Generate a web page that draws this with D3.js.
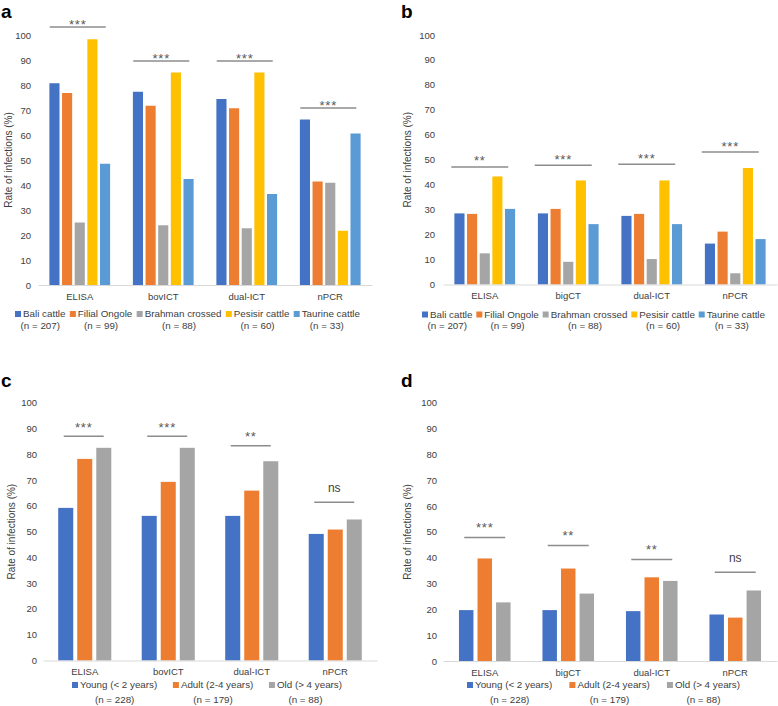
<!DOCTYPE html>
<html>
<head>
<meta charset="utf-8">
<script src="https://cdnjs.cloudflare.com/ajax/libs/d3/7.8.5/d3.min.js"></script>
<style>
  body { margin: 0; background: #fff; }
  svg { display: block; font-family: "Liberation Sans", Arial, sans-serif; }
</style>
</head>
<body>
<svg id="chart"></svg>
<script>
var width = 778;
var height = 706;

// categories
var testsA = ["ELISA", "bovICT", "dual-ICT", "nPCR"];
var testsB = ["ELISA", "bigCT", "dual-ICT", "nPCR"];
var breeds = ["Bali cattle", "Filial Ongole", "Brahman crossed", "Pesisir cattle", "Taurine cattle"];
var breedN = ["(n = 207)", "(n = 99)", "(n = 88)", "(n = 60)", "(n = 33)"];
var ages = ["Young (< 2 years)", "Adult (2-4 years)", "Old (> 4 years)"];
var ageN = ["(n = 228)", "(n = 179)", "(n = 88)"];
var yTicks = [0, 10, 20, 30, 40, 50, 60, 70, 80, 90, 100];

var breedColors = ["#4472C4", "#ED7D31", "#A5A5A5", "#FFC000", "#5B9BD5"];
var ageColors = ["#4472C4", "#ED7D31", "#A5A5A5"];

// panel a - rate per breed, one value per test
var aBali    = [80.7, 77.3, 74.4, 66.2];
var aOngole  = [76.8, 71.7, 70.7, 41.4];
var aBrahman = [25.0, 23.9, 22.7, 40.9];
var aPesisir = [98.3, 85.0, 85.0, 21.7];
var aTaurine = [48.5, 42.4, 36.4, 60.6];
var aSig      = ["***", "***", "***", "***"];
var aSigLevel = [103.2, 89.6, 89.6, 70.8];

// panel b
var bBali    = [28.5, 28.5, 27.5, 16.4];
var bOngole  = [28.3, 30.3, 28.3, 21.2];
var bBrahman = [12.5, 9.1, 10.2, 4.5];
var bPesisir = [43.3, 41.7, 41.7, 46.7];
var bTaurine = [30.3, 24.2, 24.2, 18.2];
var bSig      = ["**", "***", "***", "***"];
var bSigLevel = [47.1, 47.8, 48.2, 53.1];

// panel c - rate per age group
var cYoung = [59.2, 56.1, 56.1, 49.1];
var cAdult = [78.2, 69.3, 65.9, 50.8];
var cOld   = [82.5, 82.5, 77.3, 54.7];
var cSig      = ["***", "***", "**", "ns"];
var cSigLevel = [87.0, 87.0, 83.3, 61.4];

// panel d
var dYoung = [19.7, 19.7, 19.3, 18.0];
var dAdult = [39.7, 35.8, 32.4, 16.8];
var dOld   = [22.7, 26.1, 31.0, 27.3];
var dSig      = ["***", "**", "**", "ns"];
var dSigLevel = [47.8, 44.7, 39.3, 34.4];

var svg = d3.select("#chart")
    .attr("width", width)
    .attr("height", height);

function drawPanel(p) {
  var g = svg.append("g");

  var x = d3.scaleBand()
      .domain(p.cats)
      .range([p.left, p.right]);

  var xs = d3.scaleBand()
      .domain(p.names)
      .range([0, x.bandwidth()])
      .paddingInner(p.padIn)
      .paddingOuter(p.padOut);

  var y = d3.scaleLinear()
      .domain([0, 100])
      .range([p.bottom, p.top]);

  // panel letter
  g.append("text")
      .attr("x", p.letterX)
      .attr("y", p.letterY)
      .style("font-size", "19px")
      .style("font-weight", "bold")
      .style("fill", "#000")
      .text(p.letter);

  // y axis (labels only)
  var yAxis = g.append("g")
      .attr("transform", "translate(" + p.left + ",0)")
      .call(d3.axisLeft(y).tickValues(yTicks).tickSize(0).tickPadding(p.tickPad));
  yAxis.select(".domain").remove();
  yAxis.selectAll("text")
      .style("font-size", "9.5px")
      .style("font-family", "inherit")
      .style("fill", "#404040");

  // y title
  g.append("text")
      .attr("transform", "translate(" + p.titleX + "," + ((p.top + p.bottom) / 2) + ") rotate(-90)")
      .attr("dy", "0.35em")
      .style("text-anchor", "middle")
      .style("font-size", "10px")
      .style("fill", "#404040")
      .text("Rate of infections (%)");

  // bars
  p.series.forEach(function(s, i) {
    g.append("g")
      .selectAll("rect")
      .data(s)
      .enter()
      .append("rect")
        .attr("x", (d, j) => x(p.cats[j]) + xs(p.names[i]))
        .attr("width", xs.bandwidth())
        .attr("y", d => y(d))
        .attr("height", d => y(0) - y(d))
        .attr("fill", p.colors[i]);
  });

  // x axis
  var xAxis = g.append("g")
      .attr("transform", "translate(0," + p.bottom + ")")
      .call(d3.axisBottom(x).tickSize(0).tickSizeOuter(0).tickPadding(8));
  xAxis.select(".domain")
      .attr("stroke", "#D9D9D9")
      .attr("stroke-width", 1);
  xAxis.selectAll("text")
      .style("font-size", "9.5px")
      .style("font-family", "inherit")
      .style("fill", "#404040");

  // significance bars
  p.sig.forEach(function(label, j) {
    var cx = x(p.cats[j]) + x.bandwidth() / 2 + p.sigShift;
    var ly = y(p.sigLevel[j]);
    g.append("line")
        .attr("x1", cx - p.sigHalf)
        .attr("x2", cx + p.sigHalf)
        .attr("y1", ly)
        .attr("y2", ly)
        .attr("stroke", "#8C8C8C")
        .attr("stroke-width", 1.5);
    var t = g.append("text")
        .attr("x", cx)
        .style("text-anchor", "middle")
        .text(label);
    if (label === "ns") {
      t.attr("y", ly - 10.5)
        .style("font-size", "12px")
        .style("fill", "#404040");
    } else {
      t.attr("y", ly - p.starGap + 5.5)
        .style("font-size", "13px")
        .style("letter-spacing", "0.7px")
        .style("fill", "#595959");
    }
  });

  // legend: square + label, count centred beneath
  var leg = g.append("g");
  var items = p.names.map(function(name, i) {
    var it = leg.append("g");
    it.append("rect")
        .attr("y", p.legY - 6)
        .attr("width", 6)
        .attr("height", 6)
        .attr("fill", p.colors[i]);
    var txt = it.append("text")
        .attr("x", 8)
        .attr("y", p.legY)
        .style("font-size", "9.8px")
        .style("fill", "#404040")
        .text(name);
    var w = 8 + txt.node().getComputedTextLength();
    it.append("text")
        .attr("x", w / 2)
        .attr("y", p.legY2)
        .style("text-anchor", "middle")
        .style("font-size", "9.8px")
        .style("fill", "#404040")
        .text(p.counts[i]);
    return { node: it, w: w };
  });
  var total = d3.sum(items, d => d.w);
  var gap = (p.legEnd - p.legStart - total) / (items.length - 1);
  var cur = p.legStart;
  items.forEach(function(d) {
    d.node.attr("transform", "translate(" + cur + ",0)");
    cur += d.w + gap;
  });
}

drawPanel({
  letter: "a", letterX: 1, letterY: 18,
  cats: testsA, names: breeds, counts: breedN, colors: breedColors,
  series: [aBali, aOngole, aBrahman, aPesisir, aTaurine],
  sig: aSig, sigLevel: aSigLevel,
  left: 38, right: 372, bottom: 285, top: 35,
  padIn: 0.2, padOut: 0.9, tickPad: 7, titleX: 8,
  sigShift: -2, sigHalf: 28, starGap: 4,
  legStart: 15, legEnd: 360, legY: 317, legY2: 329
});

drawPanel({
  letter: "b", letterX: 401, letterY: 18,
  cats: testsB, names: breeds, counts: breedN, colors: breedColors,
  series: [bBali, bOngole, bBrahman, bPesisir, bTaurine],
  sig: bSig, sigLevel: bSigLevel,
  left: 443, right: 777, bottom: 284.5, top: 35,
  padIn: 0.2, padOut: 0.9, tickPad: 8, titleX: 407,
  sigShift: -5, sigHalf: 28.5, starGap: 7,
  legStart: 422, legEnd: 765, legY: 317.5, legY2: 329
});

drawPanel({
  letter: "c", letterX: 1, letterY: 387,
  cats: testsA, names: ages, counts: ageN, colors: ageColors,
  series: [cYoung, cAdult, cOld],
  sig: cSig, sigLevel: cSigLevel,
  left: 43, right: 377, bottom: 660.5, top: 402.7,
  padIn: 0.21, padOut: 0.8, tickPad: 6, titleX: 11,
  sigShift: -1, sigHalf: 20, starGap: 10,
  legStart: 72, legEnd: 342, legY: 688, legY2: 702.5
});

drawPanel({
  letter: "d", letterX: 401, letterY: 387,
  cats: testsB, names: ages, counts: ageN, colors: ageColors,
  series: [dYoung, dAdult, dOld],
  sig: dSig, sigLevel: dSigLevel,
  left: 443, right: 777, bottom: 661, top: 402.7,
  padIn: 0.22, padOut: 0.86, tickPad: 6, titleX: 407,
  sigShift: 0, sigHalf: 20.5, starGap: 11,
  legStart: 467, legEnd: 740, legY: 688, legY2: 702.5
});
</script>
</body>
</html>
